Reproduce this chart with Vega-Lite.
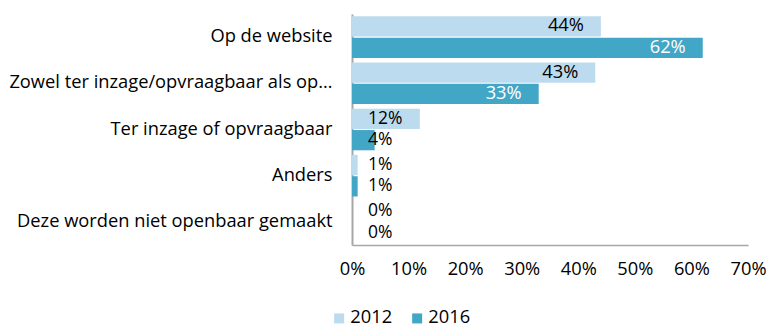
{
  "$schema": "https://vega.github.io/schema/vega-lite/v6.json",
  "autosize": "none",
  "width": 396,
  "height": 231,
  "padding": {"left": 352, "top": 14, "right": 20, "bottom": 84},
  "background": "white",
  "config": {
    "font": "Open Sans",
    "view": {"stroke": null}
  },
  "data": {
    "values": [
      {"category": "Op de website", "year": "2012", "value": 0.44},
      {"category": "Op de website", "year": "2016", "value": 0.62},
      {"category": "Zowel ter inzage/opvraagbaar als op…", "year": "2012", "value": 0.43},
      {"category": "Zowel ter inzage/opvraagbaar als op…", "year": "2016", "value": 0.33},
      {"category": "Ter inzage of opvraagbaar", "year": "2012", "value": 0.12},
      {"category": "Ter inzage of opvraagbaar", "year": "2016", "value": 0.04},
      {"category": "Anders", "year": "2012", "value": 0.01},
      {"category": "Anders", "year": "2016", "value": 0.01},
      {"category": "Deze worden niet openbaar gemaakt", "year": "2012", "value": 0.0},
      {"category": "Deze worden niet openbaar gemaakt", "year": "2016", "value": 0.0}
    ]
  },
  "encoding": {
    "y": {
      "field": "category",
      "type": "nominal",
      "sort": null,
      "scale": {"paddingInner": 0.1, "paddingOuter": 0.05},
      "axis": {
        "title": null,
        "ticks": false,
        "tickSize": 0,
        "labelPadding": 20,
        "labelFontSize": 18.3,
        "labelColor": "#000000",
        "labelLimit": 400,
        "domainColor": "#A6A6A6",
        "domainWidth": 2
      }
    },
    "yOffset": {
      "field": "year",
      "type": "nominal",
      "scale": {"paddingInner": 0.05}
    }
  },
  "layer": [
    {
      "mark": {"type": "bar"},
      "encoding": {
        "x": {
          "field": "value",
          "type": "quantitative",
          "scale": {"domain": [0, 0.7], "nice": false},
          "axis": {
            "title": null,
            "format": ".0%",
            "values": [0, 0.1, 0.2, 0.3, 0.4, 0.5, 0.6, 0.7],
            "grid": false,
            "ticks": false,
            "tickSize": 0,
            "labelFlush": false,
            "labelPadding": 15,
            "labelFontSize": 18.3,
            "labelColor": "#000000",
            "domainColor": "#A6A6A6",
            "domainWidth": 1.5
          }
        },
        "color": {
          "field": "year",
          "type": "nominal",
          "scale": {"domain": ["2012", "2016"], "range": ["#BDDBEF", "#42A6C6"]},
          "legend": {
            "title": null,
            "orient": "none",
            "legendX": -22,
            "legendY": 295,
            "direction": "horizontal",
            "symbolType": "square",
            "symbolSize": 100,
            "symbolStrokeWidth": 0,
            "labelFontSize": 18.3,
            "labelColor": "#000000",
            "columnPadding": 15,
            "labelOffset": 2
          }
        }
      }
    },
    {
      "transform": [{"filter": "datum.value >= 0.2"}],
      "mark": {"type": "text", "align": "right", "baseline": "middle", "dx": -17, "fontSize": 18.3},
      "encoding": {
        "x": {"field": "value", "type": "quantitative"},
        "text": {"field": "value", "type": "quantitative", "format": ".0%"},
        "color": {
          "condition": {"test": "datum.year === '2016'", "value": "#FFFFFF"},
          "value": "#000000"
        }
      }
    },
    {
      "transform": [{"filter": "datum.value < 0.2"}],
      "mark": {"type": "text", "align": "left", "baseline": "middle", "dx": 16, "fontSize": 17.5, "color": "#000000"},
      "encoding": {
        "x": {"datum": 0, "type": "quantitative"},
        "text": {"field": "value", "type": "quantitative", "format": ".0%"}
      }
    }
  ]
}
